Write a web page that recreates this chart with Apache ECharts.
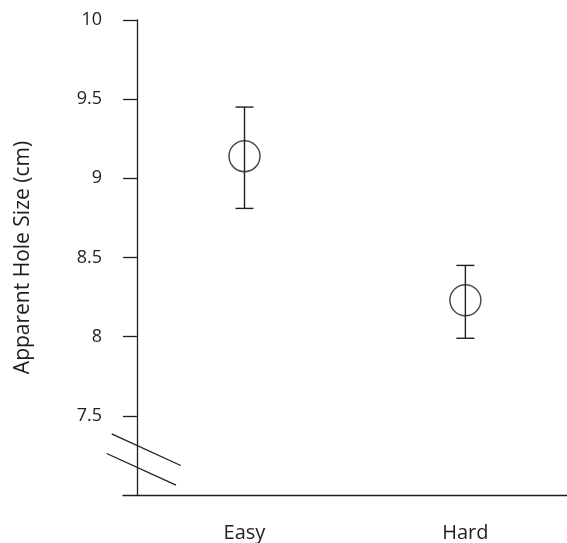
<!DOCTYPE html>
<html>
<head>
<meta charset="utf-8">
<script src="https://cdn.jsdelivr.net/npm/echarts@6/dist/echarts.min.js"></script>
<style>
html,body{margin:0;padding:0;background:#fff;}
#chart{width:567px;height:543px;}
</style>
</head>
<body>
<div id="chart"></div>
<script>
// ---- data ----
const categories = ['Easy', 'Hard'];
const categoryPositions = [1, 2];
const meanValues = [9.14, 8.23];
const upperValues = [9.45, 8.45];
const lowerValues = [8.81, 7.99];
const yTickValues = [7.5, 8, 8.5, 9, 9.5, 10];

const FONT = '"Open Sans", "DejaVu Sans", sans-serif';
const INK = '#1e1e1e';

const chart = echarts.init(document.getElementById('chart'), null, {renderer: 'canvas'});

const errData = categoryPositions.map((p, i) => [p, lowerValues[i], upperValues[i]]);
const meanData = categoryPositions.map((p, i) => [p, meanValues[i]]);

const option = {
  animation: false,
  backgroundColor: '#fff',
  grid: {left: 123, right: 0, top: 20, bottom: 47.5, containLabel: false},
  xAxis: {
    type: 'value',
    min: 0.45,
    max: 2.46,
    splitLine: {show: false},
    axisLine: {show: true, onZero: false, lineStyle: {color: INK, width: 1.3}},
    axisTick: {show: false},
    axisLabel: {
      show: true,
      customValues: categoryPositions,
      formatter: v => categories[categoryPositions.indexOf(Math.round(v))] || '',
      margin: 28,
      fontFamily: FONT,
      fontSize: 20,
      color: INK
    }
  },
  yAxis: {
    type: 'value',
    min: 7,
    max: 10,
    offset: -14,
    splitLine: {show: false},
    axisLine: {show: true, onZero: false, lineStyle: {color: INK, width: 1.3}},
    axisTick: {show: true, customValues: yTickValues, length: 14, lineStyle: {color: INK, width: 1.3}},
    axisLabel: {
      show: true,
      customValues: yTickValues,
      margin: 35,
      fontFamily: FONT,
      fontSize: 18,
      color: INK
    },
    name: 'Apparent Hole Size (cm)',
    nameLocation: 'middle',
    nameGap: 103,
    nameTextStyle: {fontFamily: FONT, fontSize: 21, color: INK}
  },
  series: [
    {
      type: 'custom',
      data: errData,
      renderItem: function (params, api) {
        const x = api.value(0);
        const lo = api.coord([x, api.value(1)]);
        const hi = api.coord([x, api.value(2)]);
        const hw = 9;
        const style = {stroke: INK, lineWidth: 1.4, fill: null};
        return {
          type: 'group',
          children: [
            {type: 'line', shape: {x1: lo[0], y1: lo[1], x2: hi[0], y2: hi[1]}, style: style},
            {type: 'line', shape: {x1: hi[0] - hw, y1: hi[1], x2: hi[0] + hw, y2: hi[1]}, style: style},
            {type: 'line', shape: {x1: lo[0] - hw, y1: lo[1], x2: lo[0] + hw, y2: lo[1]}, style: style}
          ]
        };
      },
      z: 2
    },
    {
      type: 'scatter',
      data: meanData,
      symbol: 'circle',
      symbolSize: 31,
      itemStyle: {color: 'rgba(0,0,0,0)', borderColor: INK, borderWidth: 1.5},
      z: 3
    }
  ]
};
chart.setOption(option);

// axis-break marks (decorative), placed relative to the y axis
const axisX = 137;
const yRef = chart.convertToPixel({yAxisIndex: 0}, 7.5);
chart.setOption({
  graphic: [
    {type: 'line', shape: {x1: axisX - 25.3, y1: yRef + 18, x2: axisX + 43.7, y2: yRef + 49.7},
     style: {stroke: INK, lineWidth: 1.3}},
    {type: 'line', shape: {x1: axisX - 30.3, y1: yRef + 37.7, x2: axisX + 39, y2: yRef + 69.3},
     style: {stroke: INK, lineWidth: 1.3}}
  ]
});
</script>
</body>
</html>
